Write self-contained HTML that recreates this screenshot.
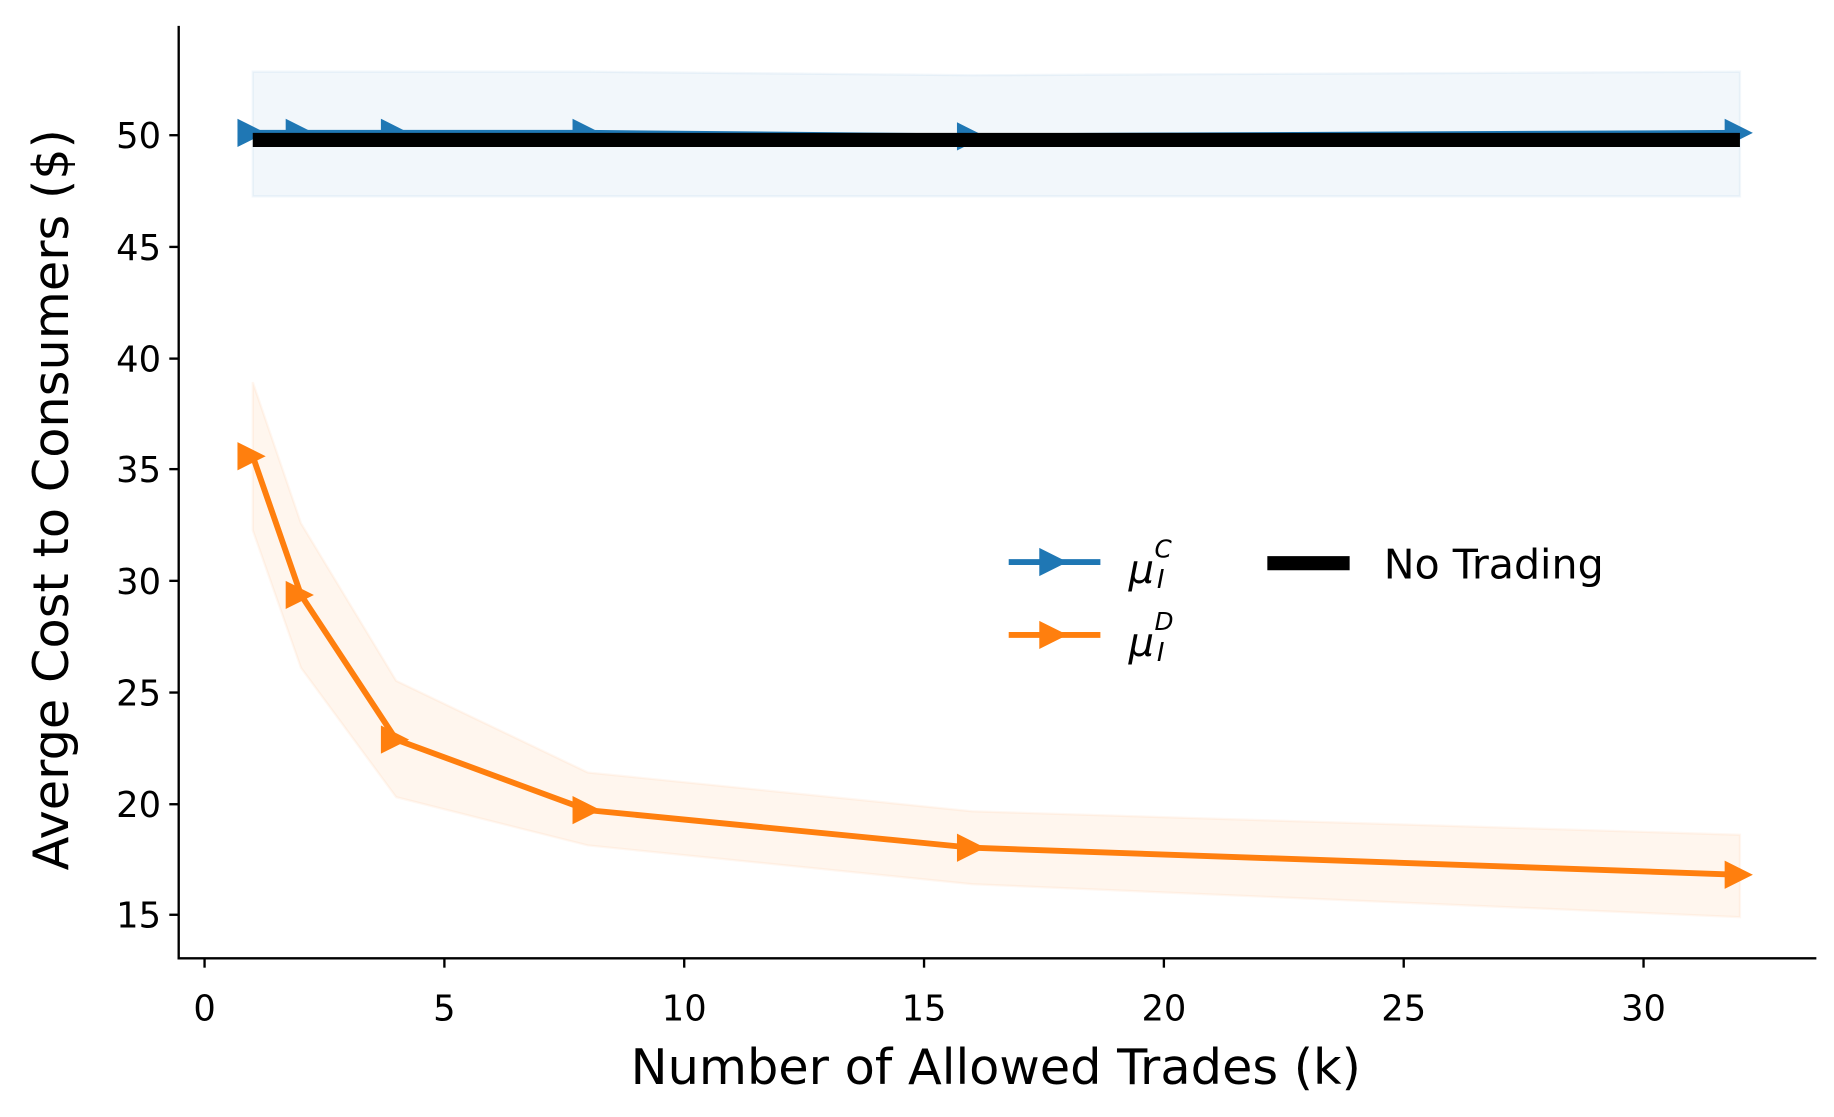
<!DOCTYPE html>
<html><head><meta charset="utf-8"><style>
html,body{margin:0;padding:0;background:#fff;}
svg{display:block;}
text{font-family:"DejaVu Sans","Liberation Sans",sans-serif;fill:#000;}
</style></head><body>
<svg width="1834" height="1117" viewBox="0 0 1560 950" preserveAspectRatio="none" xmlns="http://www.w3.org/2000/svg">
<defs>
<path id="tri" d="M-11,-12 L13,0 L-11,12 Z"/>
</defs>
<polygon points="215,61 500,61 827,64 1480,61 1480,167 827,167 500,167 215,167" fill="#1f77b4" fill-opacity="0.06" stroke="#1f77b4" stroke-opacity="0.06" stroke-width="2"/>
<polygon points="215,325 256,445 337,579 500,657 827,690 1480,710 1480,780 827,752 500,719 337,678 256,568 215,451" fill="#ff7f0e" fill-opacity="0.07" stroke="#ff7f0e" stroke-opacity="0.06" stroke-width="2"/>
<polyline points="215,113 256,113 337,113 500,113 827,116 1480,113" fill="none" stroke="#1f77b4" stroke-width="5"/>
<g fill="#1f77b4">
<use href="#tri" x="213" y="113"/><use href="#tri" x="254" y="113"/><use href="#tri" x="335" y="113"/><use href="#tri" x="498" y="113"/><use href="#tri" x="825" y="116"/><use href="#tri" x="1478" y="113"/>
</g>
<line x1="215" y1="119" x2="1480" y2="119" stroke="#000" stroke-width="12"/>
<polyline points="215,388 256,506 337,629 500,689 827,721 1480,744" fill="none" stroke="#ff7f0e" stroke-width="5" stroke-linejoin="round"/>
<g fill="#ff7f0e">
<use href="#tri" x="213" y="388"/><use href="#tri" x="254" y="506"/><use href="#tri" x="335" y="629"/><use href="#tri" x="498" y="689"/><use href="#tri" x="825" y="721"/><use href="#tri" x="1478" y="744"/>
</g>
<line x1="152" y1="22" x2="152" y2="816" stroke="#000" stroke-width="2"/>
<line x1="151" y1="815" x2="1545" y2="815" stroke="#000" stroke-width="2"/>
<g stroke="#000" stroke-width="2">
<line x1="174" y1="815" x2="174" y2="823"/><line x1="378" y1="815" x2="378" y2="823"/><line x1="582" y1="815" x2="582" y2="823"/><line x1="786" y1="815" x2="786" y2="823"/><line x1="990" y1="815" x2="990" y2="823"/><line x1="1194" y1="815" x2="1194" y2="823"/><line x1="1398" y1="815" x2="1398" y2="823"/>
<line x1="144" y1="115" x2="152" y2="115"/><line x1="144" y1="210" x2="152" y2="210"/><line x1="144" y1="305" x2="152" y2="305"/><line x1="144" y1="399" x2="152" y2="399"/><line x1="144" y1="494" x2="152" y2="494"/><line x1="144" y1="589" x2="152" y2="589"/><line x1="144" y1="684" x2="152" y2="684"/><line x1="144" y1="778" x2="152" y2="778"/>
</g>
<g font-size="30" text-anchor="middle">
<text x="174" y="868">0</text><text x="378" y="868">5</text><text x="582" y="868">10</text><text x="786" y="868">15</text><text x="990" y="868">20</text><text x="1194" y="868">25</text><text x="1398" y="868">30</text>
</g>
<g font-size="30" text-anchor="end">
<text x="137" y="126">50</text><text x="137" y="221">45</text><text x="137" y="316">40</text><text x="137" y="410">35</text><text x="137" y="505">30</text><text x="137" y="600">25</text><text x="137" y="695">20</text><text x="137" y="789">15</text>
</g>
<text x="847" y="922" font-size="42" text-anchor="middle">Number of Allowed Trades (k)</text>
<text transform="translate(58,425) rotate(-90)" font-size="42" text-anchor="middle">Averge Cost to Consumers ($)</text>
<line x1="858" y1="478" x2="936" y2="478" stroke="#1f77b4" stroke-width="5"/>
<use href="#tri" x="895" y="478" fill="#1f77b4"/>
<line x1="858" y1="540" x2="936" y2="540" stroke="#ff7f0e" stroke-width="5"/>
<use href="#tri" x="895" y="540" fill="#ff7f0e"/>
<text x="960" y="496" font-size="34" font-style="italic">μ</text>
<text x="982" y="474" font-size="21" font-style="italic">C</text>
<text x="984" y="500" font-size="22" font-style="italic" font-family="Liberation Serif,serif">I</text>
<text x="960" y="558" font-size="34" font-style="italic">μ</text>
<text x="982" y="536" font-size="21" font-style="italic">D</text>
<text x="984" y="562" font-size="22" font-style="italic" font-family="Liberation Serif,serif">I</text>
<line x1="1078" y1="479" x2="1148" y2="479" stroke="#000" stroke-width="12"/>
<text x="1177" y="492" font-size="35">No Trading</text>
</svg>
</body></html>
